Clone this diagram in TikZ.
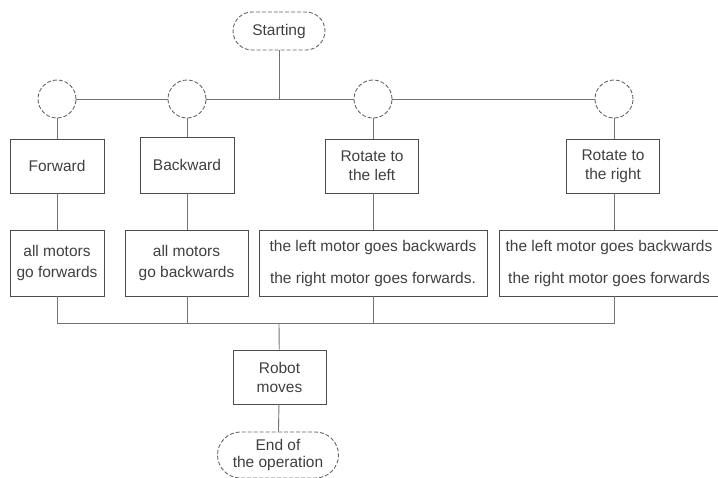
\documentclass[tikz,border=0pt]{standalone}
\usepackage{fontspec}
\setmainfont{Liberation Sans}
\usetikzlibrary{shapes.misc}

\begin{document}
\begin{tikzpicture}[x=1pt,y=-1pt,line width=0.9pt,
	font=\fontsize{15.5}{18}\selectfont,
	box/.style={draw=black!70,rectangle,text=black!75,align=center,inner sep=0pt},
	term/.style={draw=black!60,dash pattern=on 4pt off 2pt,rounded rectangle,
		text=black!75,align=center,inner sep=0pt},
	knot/.style={draw=black!60,dash pattern=on 4pt off 2pt,circle,
		minimum size=38pt,inner sep=0pt},
	link/.style={draw=black!55}]

\useasboundingbox (0,0) rectangle (718,477);

% start and branch points
\node[term,minimum width=92pt,minimum height=38pt] (start) at (279,31) {Starting};
\coordinate (top) at (279,99);
\node[knot] (k1) at (57,99) {};
\node[knot] (k2) at (187,99) {};
\node[knot] (k3) at (373,99) {};
\node[knot] (k4) at (614,99) {};

% commands
\node[box,minimum width=94pt,minimum height=54pt] (fwd) at (57,166) {Forward};
\node[box,minimum width=94pt,minimum height=56pt] (bwd) at (187,165) {Backward};
\node[box,minimum width=93pt,minimum height=54pt] (lft) at (372,166) {Rotate to\\[1pt]the left};
\node[box,minimum width=93pt,minimum height=54pt] (rgt) at (613,166) {Rotate to\\[1pt]the right};

% actions
\node[box,minimum width=94pt,minimum height=66pt] (fwdact) at (57,263)
	{all motors\\[3pt]go forwards};
\node[box,minimum width=123pt,minimum height=66pt] (bwdact) at (186.5,263)
	{all motors\\[3pt]go backwards};
\node[box,minimum width=228pt,minimum height=66pt] (lftact) at (373,263)
	{the left motor goes backwards\\[14pt]the right motor goes forwards.};
\node[box,minimum width=220pt,minimum height=66pt] (rgtact) at (609,263)
	{the left motor goes backwards\\[14pt]the right motor goes forwards};

% end
\coordinate (bus) at (279,323);
\node[box,minimum width=93pt,minimum height=54pt] (robot) at (279.5,377) {Robot\\[1pt]moves};
\node[term,minimum width=121pt,minimum height=46pt] (stop) at (278,455) {End of\\[-1pt]the operation};

\draw[link] (start) -- (top);
\draw[link] (k1) -- (k2) -- (k3) -- (k4);

\draw[link] (k1) -- (fwd);
\draw[link] (k2) -- (bwd);
\draw[link] (k3.south) -- (k3.south |- lft.north);
\draw[link] (k4.south) -- (k4.south |- rgt.north);

\draw[link] (fwd) -- (fwdact);
\draw[link] (bwd.south) -- (bwd.south |- bwdact.north);
\draw[link] (k3.south |- lft.south) -- (k3.south |- lftact.north);
\draw[link] (k4.south |- rgt.south) -- (k4.south |- rgtact.north);

\draw[link] (fwdact.south) -- (fwdact.south |- bus) -- (k4.south |- bus)
	-- (k4.south |- rgtact.south);
\draw[link] (bwd.south |- bwdact.south) -- (bwd.south |- bus);
\draw[link] (k3.south |- lftact.south) -- (k3.south |- bus);

\draw[link] (bus) -- (robot);
\draw[link] (robot) -- (stop);

\end{tikzpicture}
\end{document}
